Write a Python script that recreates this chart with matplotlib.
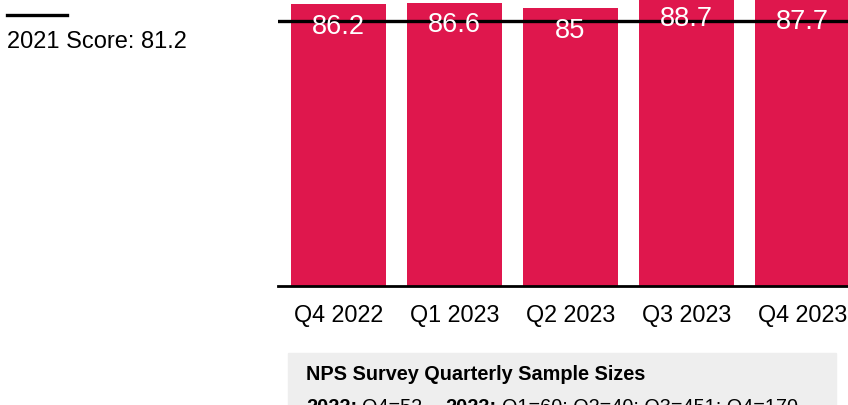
import matplotlib.pyplot as plt

plt.rcParams['font.family'] = ['Liberation Sans', 'DejaVu Sans']

quarters = ["Q4 2022", "Q1 2023", "Q2 2023", "Q3 2023", "Q4 2023"]
scores = [86.2, 86.6, 85, 88.7, 87.7]
baseline_2021 = 81.2

sample_2022 = "Q4=52"
sample_2023 = "Q1=60; Q2=40; Q3=451; Q4=170"

BAR_COLOR = "#DF174D"
W, H = 848, 406

fig = plt.figure(figsize=(W / 100, H / 100), dpi=100)
ax = fig.add_axes([278 / W, (H - 287) / H, 1 - 278 / W, 287 / H])

x = range(len(quarters))
ax.bar(x, scores, width=0.82, color=BAR_COLOR, zorder=2)
ax.axhline(baseline_2021, color="black", lw=2.4, zorder=3)

for i, v in zip(x, scores):
    ax.annotate(f"{v:g}", (i, v), xytext=(0, -15.5), textcoords="offset points",
                ha="center", va="center", color="white", fontsize=19.6,
                annotation_clip=False, zorder=4)

ax.set_xlim(-0.5216, 4.392)
ax.set_ylim(0, 87.8)
ax.set_xticks(list(x))
ax.set_xticklabels(quarters, fontsize=16.8)
ax.tick_params(axis="x", length=0, pad=12.5)
ax.set_yticks([])
for side in ["top", "right", "left"]:
    ax.spines[side].set_visible(False)
ax.spines["bottom"].set_linewidth(2)

# left-side legend for the 2021 line
fig.add_artist(plt.Line2D([7 / W, 67 / W], [1 - 16.3 / H] * 2, color="black", lw=2.4))
fig.text(7 / W, 1 - 48.3 / H, f"2021 Score: {baseline_2021}", fontsize=17,
         va="baseline", ha="left")

# sample size note box
fig.add_artist(plt.Rectangle((288.3 / W, 0), (835.7 - 288.3) / W, (H - 354) / H,
                             transform=fig.transFigure, color="#EEEEEE", zorder=0))
fig.text(306 / W, 1 - 380 / H, "NPS Survey Quarterly Sample Sizes", fontsize=14.3,
         fontweight="bold", va="baseline")
fig.text(306 / W, 1 - 412.6 / H, "2022:", fontsize=14.3, fontweight="bold", va="baseline")
fig.text(361.7 / W, 1 - 412.6 / H, sample_2022, fontsize=14.3, va="baseline")
fig.text(445 / W, 1 - 412.6 / H, "2023:", fontsize=14.3, fontweight="bold", va="baseline")
fig.text(501.5 / W, 1 - 412.6 / H, sample_2023, fontsize=14.3, va="baseline")

fig.savefig("out.png", dpi=100)
